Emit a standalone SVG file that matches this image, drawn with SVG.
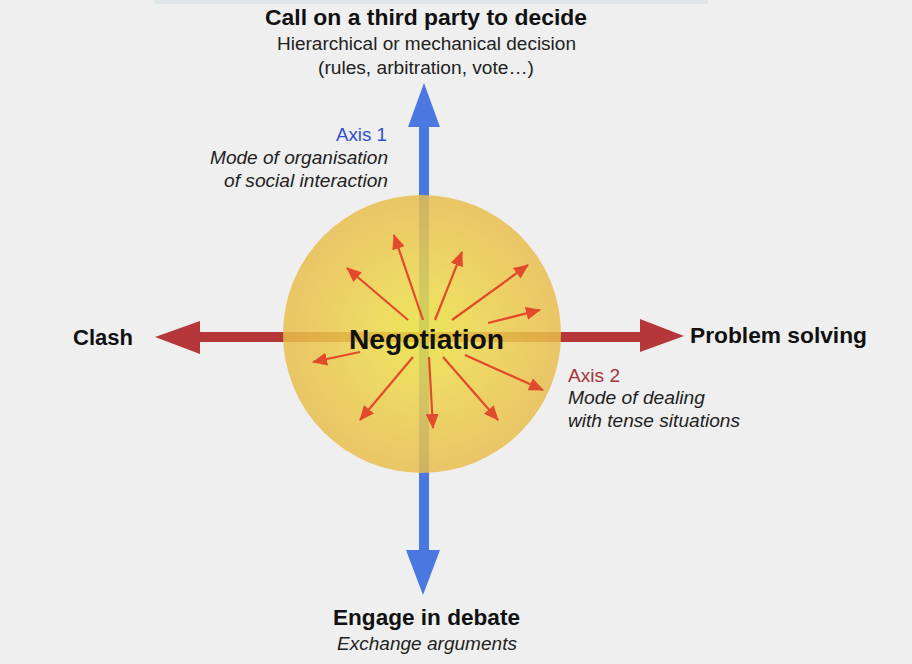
<svg xmlns="http://www.w3.org/2000/svg" width="912" height="664" viewBox="0 0 912 664">
<defs>
<radialGradient id="gold" cx="0.5" cy="0.5" r="0.5">
<stop offset="0" stop-color="#ebe43a"/>
<stop offset="0.4" stop-color="#edd54a"/>
<stop offset="1" stop-color="#e8bd4c"/>
</radialGradient>
<marker id="ah" viewBox="0 0 15 13" refX="14" refY="6.5" markerWidth="15" markerHeight="13" markerUnits="userSpaceOnUse" orient="auto">
<path d="M0,0 L15,6.5 L0,13 Z" fill="#e24a2c"/>
</marker>
</defs>
<style>
.bold{font-family:"Liberation Sans",Arial,sans-serif;font-weight:bold;fill:#111}
.reg{font-family:"Liberation Sans",Arial,sans-serif;fill:#222}
.it{font-family:"Liberation Sans",Arial,sans-serif;font-style:italic;fill:#222}
.ray{stroke:#e24a2c;stroke-width:2.2;fill:none;marker-end:url(#ah)}
</style>
<rect width="912" height="664" fill="#efefef"/>
<rect x="155" y="0" width="553" height="4" fill="#dfe6ea"/>
<g id="connectors">
<g id="axis1">
<rect x="419" y="125" width="10" height="428" fill="#4a78e0"/>
<path d="M424,83 L440,127 L408,127 Z" fill="#4a78e0"/>
<path d="M423,595 L440,550 L406,550 Z" fill="#4a78e0"/>
</g>
<g id="axis2">
<rect x="198" y="332" width="444" height="10" fill="#b5373a"/>
<path d="M155,337 L200,321 L200,354 Z" fill="#b5373a"/>
<path d="M684,336 L640,319 L640,352 Z" fill="#b5373a"/>
</g>
</g>
<g id="negotiation">
<circle cx="422" cy="334" r="139" fill="url(#gold)" fill-opacity="0.84"/>
<g id="rays">
<line class="ray" x1="408" y1="320" x2="347" y2="268"/>
<line class="ray" x1="423" y1="320" x2="394" y2="235"/>
<line class="ray" x1="435" y1="320" x2="462" y2="252"/>
<line class="ray" x1="452" y1="320" x2="528" y2="265"/>
<line class="ray" x1="488" y1="323" x2="540" y2="310"/>
<line class="ray" x1="360" y1="352" x2="313" y2="362"/>
<line class="ray" x1="413" y1="357" x2="360" y2="420"/>
<line class="ray" x1="429" y1="357" x2="433" y2="428"/>
<line class="ray" x1="443" y1="357" x2="498" y2="420"/>
<line class="ray" x1="465" y1="355" x2="543" y2="390"/>
</g>
<text class="bold" x="349" y="349" font-size="27" textLength="155" lengthAdjust="spacingAndGlyphs">Negotiation</text>
</g>
<g id="top">
<text class="bold" x="265" y="25" font-size="22" textLength="322" lengthAdjust="spacingAndGlyphs">Call on a third party to decide</text>
<text class="reg" x="277" y="50" font-size="17.5" textLength="299" lengthAdjust="spacingAndGlyphs">Hierarchical or mechanical decision</text>
<text class="reg" x="318" y="74" font-size="17.5" textLength="216" lengthAdjust="spacingAndGlyphs">(rules, arbitration, vote…)</text>
</g>
<g id="axis1-label">
<text class="reg" x="336" y="141" font-size="17.5" textLength="51" lengthAdjust="spacingAndGlyphs" style="fill:#2f4fcf">Axis 1</text>
<text class="it" x="210" y="164" font-size="17.5" textLength="178" lengthAdjust="spacingAndGlyphs">Mode of organisation</text>
<text class="it" x="224" y="187" font-size="17.5" textLength="164" lengthAdjust="spacingAndGlyphs">of social interaction</text>
</g>
<g id="clash">
<text class="bold" x="73" y="345" font-size="22" textLength="60" lengthAdjust="spacingAndGlyphs">Clash</text>
</g>
<g id="problem">
<text class="bold" x="690" y="343" font-size="22" textLength="177" lengthAdjust="spacingAndGlyphs">Problem solving</text>
</g>
<g id="axis2-label">
<text class="reg" x="568" y="382" font-size="17.5" textLength="52" lengthAdjust="spacingAndGlyphs" style="fill:#a8323a">Axis 2</text>
<text class="it" x="568" y="404" font-size="17.5" textLength="137" lengthAdjust="spacingAndGlyphs">Mode of dealing</text>
<text class="it" x="568" y="427" font-size="17.5" textLength="172" lengthAdjust="spacingAndGlyphs">with tense situations</text>
</g>
<g id="bottom">
<text class="bold" x="333" y="625" font-size="22" textLength="187" lengthAdjust="spacingAndGlyphs">Engage in debate</text>
<text class="it" x="337" y="650" font-size="17.5" textLength="180" lengthAdjust="spacingAndGlyphs">Exchange arguments</text>
</g>
</svg>
